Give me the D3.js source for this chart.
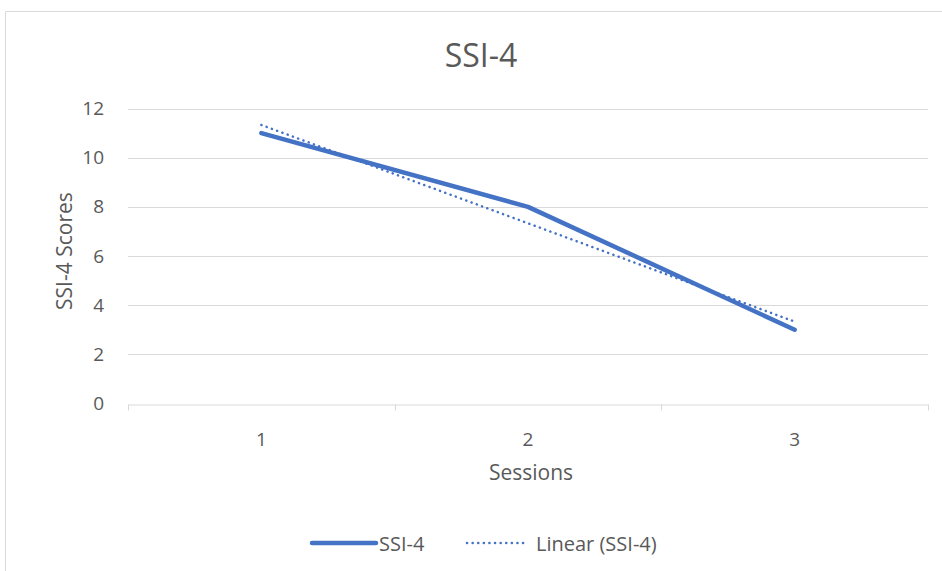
<!DOCTYPE html>
<html><head><meta charset="utf-8">
<script src="https://cdn.jsdelivr.net/npm/d3@7"></script>
<style>body{margin:0;background:#fff}svg{display:block}text{font-family:"Open Sans",sans-serif;fill:#595959}</style>
</head><body><svg id="c" width="942" height="571"></svg>
<script>
const sessions = ["1","2","3"];
const ssi4 = [11, 8, 3];
const linearTrend = [11.33, 7.33, 3.33];
const yTicks = [0,2,4,6,8,10,12];
const title = "SSI-4";
const xTitle = "Sessions";
const yTitle = "SSI-4 Scores";
const seriesNames = ["SSI-4","Linear (SSI-4)"];

const svg = d3.select("#c");
const W = 942, H = 571;
const m = {left:128, right:14, top:108.5, bottom:167.5};
const x = d3.scaleBand().domain(sessions).range([m.left, W-m.right]);
const y = d3.scaleLinear().domain([0,12]).range([H-m.bottom, m.top]);
const blue = "#4472C4";

// chart border
svg.append("path").attr("d", `M5.5,${H} L5.5,11.5 L${W},11.5`).attr("fill","none").attr("stroke","#d9d9d9").attr("stroke-width",1);

// gridlines
svg.append("g").selectAll("line").data(yTicks.filter(d=>d>0)).join("line")
  .attr("x1", m.left).attr("x2", W-m.right)
  .attr("y1", d=>Math.round(y(d))+0.5).attr("y2", d=>Math.round(y(d))+0.5)
  .attr("stroke","#d9d9d9").attr("stroke-width",1);

// x axis
const xa = d3.axisBottom(x).tickSize(0).tickPadding(28);
const gx = svg.append("g").attr("transform",`translate(0,${Math.round(y(0))+0.5})`).call(xa);
gx.select(".domain").attr("stroke","#d9d9d9");
gx.selectAll("text").style("font-size","19px").attr("fill","#595959");
// category boundary ticks
const bounds = [m.left, ...sessions.map(s=>x(s)+x.bandwidth())];
svg.append("g").selectAll("line").data(bounds).join("line")
  .attr("x1",d=>Math.round(d)+0.5).attr("x2",d=>Math.round(d)+0.5)
  .attr("y1",Math.round(y(0))+0.5).attr("y2",Math.round(y(0))+6.5)
  .attr("stroke","#d9d9d9");

// y axis labels
const ya = d3.axisLeft(y).tickValues(yTicks).tickSize(0).tickPadding(24).tickFormat(d3.format("d"));
const gy = svg.append("g").attr("transform",`translate(${m.left},0)`).call(ya);
gy.select(".domain").remove();
gy.selectAll("text").style("font-size","19px").attr("fill","#595959");

// series line
const line = d3.line().x((d,i)=>x(sessions[i])+x.bandwidth()/2).y(d=>y(d));
svg.append("path").datum(ssi4).attr("d",line).attr("fill","none")
  .attr("stroke",blue).attr("stroke-width",4.5).attr("stroke-linecap","round").attr("stroke-linejoin","round");
svg.append("path").datum(linearTrend).attr("d",line).attr("fill","none")
  .attr("stroke",blue).attr("stroke-width",2.5).attr("stroke-dasharray","0.1 5.5").attr("stroke-linecap","round");

// titles
svg.append("text").attr("x",481).attr("y",67).attr("text-anchor","middle")
  .style("font-size","32px").text(title);
svg.append("text").attr("x",531).attr("y",480).attr("text-anchor","middle").style("font-size","21px").text(xTitle);
svg.append("text").attr("transform",`translate(72,${y(6.2)}) rotate(-90)`).attr("text-anchor","middle").style("font-size","21px").text(yTitle);

// legend
const lg = svg.append("g");
lg.append("line").attr("x1",312).attr("x2",376).attr("y1",543).attr("y2",543)
  .attr("stroke",blue).attr("stroke-width",4.5).attr("stroke-linecap","round");
lg.append("text").attr("x",379).attr("y",551).style("font-size","20px").text(seriesNames[0]);
lg.append("line").attr("x1",467).attr("x2",527).attr("y1",543).attr("y2",543)
  .attr("stroke",blue).attr("stroke-width",2.5).attr("stroke-dasharray","0.1 5.5").attr("stroke-linecap","round");
lg.append("text").attr("x",536).attr("y",551).style("font-size","20px").text(seriesNames[1]);
</script></body></html>
